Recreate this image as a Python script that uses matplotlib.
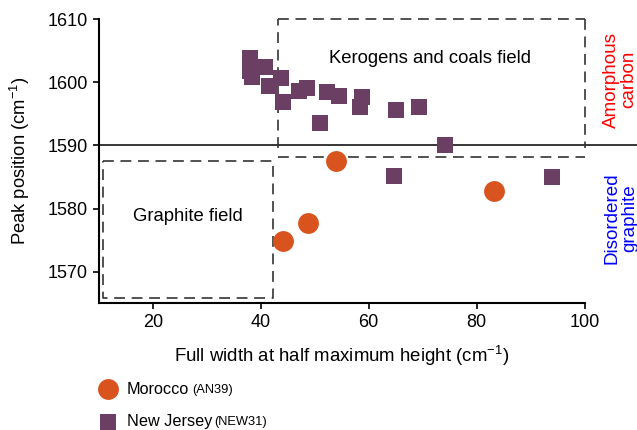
import matplotlib
matplotlib.use("Agg")
import matplotlib.pyplot as plt
from matplotlib.lines import Line2D

plt.rcParams['font.family'] = ['Liberation Sans', 'DejaVu Sans']
plt.rcParams['mathtext.default'] = 'regular'

# Data
morocco_fwhm = [53.9, 48.8, 44.2, 83.3]
morocco_peak = [1587.6, 1577.75, 1574.9, 1582.8]

nj_fwhm = [37.9, 37.9, 38.4, 40.8, 41.6, 43.7, 44.2, 47.1, 48.6, 52.2, 54.4,
           51.0, 58.7, 58.4, 65.1, 69.4, 74.1, 64.75, 93.9]
nj_peak = [1603.9, 1601.7, 1600.8, 1602.45, 1599.4, 1600.6, 1596.9, 1598.65, 1599.1,
           1598.5, 1597.8, 1593.6, 1597.6, 1596.0, 1595.6, 1596.1, 1590.05, 1585.15, 1585.05]

xticks = [20, 40, 60, 80, 100]
yticks = [1570, 1580, 1590, 1600, 1610]

orange = '#D9531E'
purple = '#6B3F63'

fig = plt.figure(figsize=(6.37, 4.30), dpi=100)
ax = fig.add_axes([99/637, 1 - 303.3/430, (584.5-99)/637, (303.3-19)/430])
ax.set_xlim(10, 100)
ax.set_ylim(1565, 1610)

for s in ['top', 'right']:
    ax.spines[s].set_visible(False)
for s in ['left', 'bottom']:
    ax.spines[s].set_linewidth(1.5)

ax.set_xticks(xticks)
ax.set_yticks(yticks)
ax.tick_params(direction='out', length=4, width=1.2, labelsize=13, pad=4)
ax.set_xlabel('Full width at half maximum height (cm$^{-1}$)', fontsize=13.4, labelpad=9)
ax.set_ylabel('Peak position (cm$^{-1}$)', fontsize=13.2, labelpad=11)

# solid line at 1590 extending to figure edge
ax.plot([10, 110], [1590, 1590], color='black', lw=1.1, clip_on=False, zorder=2)

dash = (0, (6.5, 4))
dc = '#333333'
dlw = 1.2
# Kerogens box
ax.plot([43.1, 43.1], [1589.6, 1610], color=dc, lw=dlw, ls=dash, clip_on=False)
ax.plot([43.1, 100], [1610, 1610], color=dc, lw=dlw, ls=dash, clip_on=False)
ax.plot([100, 100], [1610, 1589.6], color=dc, lw=dlw, ls=dash, clip_on=False)
ax.plot([43.1, 100], [1588.2, 1588.2], color=dc, lw=dlw, ls=dash, clip_on=False)
# Graphite box
ax.plot([10.7, 42.3, 42.3, 10.7, 10.7], [1587.6, 1587.6, 1565.8, 1565.8, 1587.6],
        color=dc, lw=dlw, ls=dash, clip_on=False)

ax.text(71.4, 1603.8, 'Kerogens and coals field', fontsize=13.3, ha='center', va='center')
ax.text(26.5, 1578.7, 'Graphite field', fontsize=13.3, ha='center', va='center')

ax.text(106.6, 1600.4, 'Amorphous\ncarbon', color='#FF0000', rotation=90, fontsize=13.6,
        ha='center', va='center', multialignment='center', linespacing=1.05)
ax.text(106.7, 1578.5, 'Disordered\ngraphite', color='#0000FF', rotation=90, fontsize=13.6,
        ha='center', va='center', multialignment='center', linespacing=1.05)

ax.plot(nj_fwhm, nj_peak, ls='none', marker='s', markersize=12, color=purple,
        markeredgewidth=0, zorder=3, clip_on=False)
ax.plot(morocco_fwhm, morocco_peak, ls='none', marker='o', markersize=15, color=orange,
        markeredgewidth=0, zorder=4, clip_on=False)

# Legend (manual)
def fx(px):
    return px / 637
def fy(py):
    return 1 - py / 430

fig.add_artist(Line2D([fx(108.3)], [fy(389.3)], marker='o', markersize=15, color=orange,
                      markeredgewidth=0, ls='none'))
fig.add_artist(Line2D([fx(108.3)], [fy(421.7)], marker='s', markersize=12, color=purple,
                      markeredgewidth=0, ls='none'))
fig.text(fx(126.7), fy(389.8), 'Morocco', fontsize=11.7, va='center', ha='left')
fig.text(fx(192.7), fy(390.5), '(AN39)', fontsize=9.3, va='center', ha='left')
fig.text(fx(126.7), fy(421.7), 'New Jersey', fontsize=11.7, va='center', ha='left')
fig.text(fx(214), fy(422.4), '(NEW31)', fontsize=9.3, va='center', ha='left')

fig.savefig('out.png', dpi=100)
